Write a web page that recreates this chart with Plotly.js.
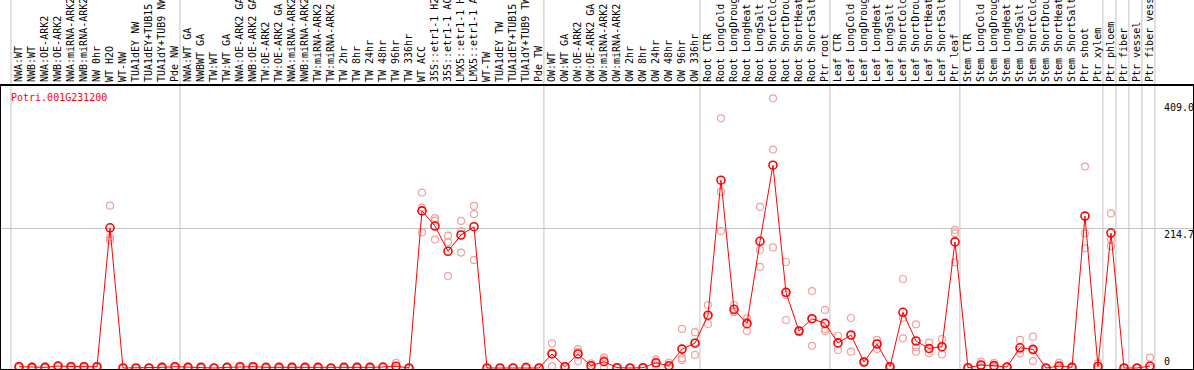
<!DOCTYPE html>
<html><head><meta charset="utf-8">
<script src="https://cdn.plot.ly/plotly-3.0.1.min.js"></script>
<style>html,body{margin:0;padding:0;background:#fff;overflow:hidden}#chart{width:1194px;height:370px}</style>
</head><body><div id="chart"></div><script>
const geneId = "Potri.001G231200";
const categories = [
"NWA:WT","NWB:WT","NWA:OE-ARK2","NWB:OE-ARK2","NWA:miRNA-ARK2","NWB:miRNA-ARK2","NW 0hr","WT H2O","WT-NW",
"TUA1dEY NW","TUA1dEY+TUB15 NW","TUA1dY+TUB9 NW","Pde NW","NWA:WT GA","NWBWT GA","TW:WT","TW:WT GA",
"NWA:OE-ARK2 GA","NWB:OE-ARK2 GA","TW:OE-ARK2","TW:OE-ARK2 GA","NWA:miRNA-ARK2","NWB:miRNA-ARK2",
"TW:miRNA-ARK2","TW:miRNA-ARK2","TW 2hr","TW 8hr","TW 24hr","TW 48hr","TW 96hr","TW 336hr","WT ACC",
"35S::etr1-1 H2O","35S::etr1-1 ACC","LMX5::etr1-1 H2O","LMX5::etr1-1 ACC","WT-TW","TUA1dEY TW",
"TUA1dEY+TUB15 TW","TUA1dY+TUB9 TW","Pde TW","OW:WT","OW:WT GA","OW:OE-ARK2","OW:OE-ARK2 GA",
"OW:miRNA-ARK2","OW:miRNA-ARK2","OW 2hr","OW 8hr","OW 24hr","OW 48hr","OW 96hr","OW 336hr",
"Root CTR","Root LongCold","Root LongDrought","Root LongHeat","Root LongSalt","Root ShortCold",
"Root ShortDrought","Root ShortHeat","Root ShortSalt","Ptr root","Leaf CTR","Leaf LongCold",
"Leaf LongDrought","Leaf LongHeat","Leaf LongSalt","Leaf ShortCold","Leaf ShortDrought","Leaf ShortHeat",
"Leaf ShortSalt","Ptr leaf","Stem CTR","Stem LongCold","Stem LongDrought","Stem LongHeat","Stem LongSalt",
"Stem ShortCold","Stem ShortDrought","Stem ShortHeat","Stem ShortSalt","Ptr shoot","Ptr xylem",
"Ptr phloem","Ptr fiber","Ptr vessel","Ptr fiber vessel"];
const meanValues = [
2,1,1,3,2,2,2,215,0,
0,0,1,2,1,1,0,1,
2,2,1,1,1,1,
1,0,1,1,1,1.5,2.7,0,241,
217.7,179,204,216.7,0,0,
0,0.7,0,21.5,2,21.5,3.5,
9.7,0.5,0,0.5,8,3.5,29,38,
81,288,90,68,194.3,311,
116,56.7,75.6,68.5,38.5,50.6,
9.2,36.8,2,85.4,41.4,30,
32.7,193.4,0.5,4.6,3.6,1.5,31,
28.6,0,3,1,233,2.3,
207,0,0,3];
const rep1 = [
3,2,1,4,3,2,3,249,0,
0,0,1,3,2,1,0,1,
3,2,1,2,1,2,
1,0,1,2,1,2,8,0,269,
230,203,225.5,248.5,0,0,
0,2,0,38,3,29,7,
16.4,1,0,1,13,8,60,55,
96.6,383,96.6,76,247,413.6,
162.6,58,118,89,49.5,76.7,
10,43,3,136.5,67,39,
44.5,211.7,1,9.7,8,2,43,
48,0,8,2,309,7,
237,0,0,15.8];
const rep2 = [
1,0,2,3,1,3,1,200,0,
0,0,2,1,1,2,0,1,
2,3,1,1,2,1,
2,0,1,1,2,1.5,0,0,246,
226,193,210,236,0,0,
0,0,0,23.5,2,24.8,3,
12.7,0.5,0,0.5,7.5,0.5,15,39,
79,270,87,71,181,335,
112,57,75,60,38,50,
9,38,2,77,32,29,
32,206.6,0.5,3,2,1.5,28,
27,0,1,1,206.6,0,
197,0,0,0];
const rep3 = [
2,1,0,2,2,1,2,196,0,
0,0,0,2,0,0,0,1,
1,1,1,0,0,0,
0,0,0,0,0,1,0,0,208,
197,141,177,165.6,0,0,
0,0,0,3,1,10.7,0.5,
0,0,0,0,3.5,2,12.3,20,
67.5,210,86,56.7,155,185,
73.6,55,34,56.7,27.6,25,
8.5,29,1,45.5,25,22.5,
21,162,0,1,1,1,22.5,
10.7,0,0,1,183.6,0,
187,0,0,0];
const yTickValues = [409.0, 214.7, 0];
const yTickLabels = ["409.0", "214.7", "0"];
const groupEnds = [0, 13, 41, 53, 63, 73, 84, 85, 86, 87, 88];

const xs = categories.map((_, i) => i);
const repX = xs.concat(xs, xs);
const repY = rep1.concat(rep2, rep3);

const traces = [
  {type:'scatter', mode:'markers', x:repX, y:repY, hoverinfo:'skip',
   marker:{symbol:'circle-open', size:7, color:'#f2a0a0', line:{width:1.2, color:'#f2a0a0'}}},
  {type:'scatter', mode:'lines+markers', x:xs, y:meanValues,
   line:{color:'#ff0000', width:1},
   marker:{symbol:'circle-open', size:8, color:'#ff0000', line:{width:1.6, color:'#ff0000'}}}
];

const shapes = groupEnds.map(g => ({
  type:'line', xref:'x', yref:'paper', x0:g - 0.62, x1:g - 0.62, y0:0, y1:1.31,
  line:{color:'#c4c4c4', width:1}, layer:'below'
}));

const annotations = [
  {xref:'paper', yref:'paper', x:0.0067, y:0.961, xanchor:'left', yanchor:'middle', showarrow:false,
   text:geneId, font:{family:'DejaVu Sans Mono', size:10, color:'#ff0000'}}
].concat(yTickValues.map((v, i) => ({
  xref:'paper', yref:'y', x:0.9748, y:v, xanchor:'left', yanchor: v === 0 ? 'bottom' : 'top',
  showarrow:false, text:yTickLabels[i], borderpad:0,
  font:{family:'DejaVu Sans Mono', size:10, color:'#000'}
})));

const layout = {
  width:1194, height:370,
  margin:{l:1, r:1, t:86, b:1, pad:0},
  paper_bgcolor:'#ffffff', plot_bgcolor:'#ffffff',
  showlegend:false,
  font:{family:'DejaVu Sans Mono', size:10, color:'#000'},
  xaxis:{range:[-1.385, 90.31], side:'top', tickmode:'array', tickvals:xs, ticktext:categories,
    tickangle:-90, ticks:'', showgrid:false, zeroline:false, showline:true, mirror:true,
    linecolor:'#000', linewidth:2, automargin:false,
    tickfont:{family:'DejaVu Sans Mono', size:10, color:'#000'}},
  yaxis:{range:[-1.53, 432.5], tickmode:'array', tickvals:[214.7], showticklabels:false, ticks:'',
    showgrid:true, gridcolor:'#c4c4c4', gridwidth:1, zeroline:false, showline:true, mirror:true,
    linecolor:'#000', linewidth:2, automargin:false},
  shapes:shapes,
  annotations:annotations
};

Plotly.newPlot('chart', traces, layout, {staticPlot:true, displayModeBar:false});
</script></body></html>
